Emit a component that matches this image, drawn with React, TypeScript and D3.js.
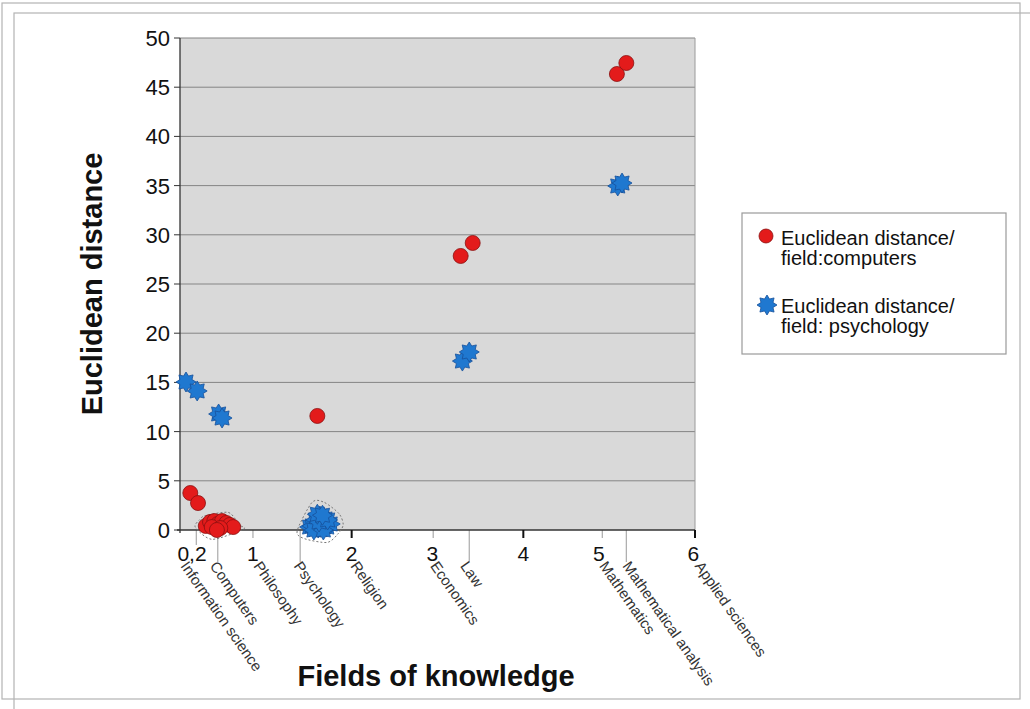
import React from "react";
import * as d3 from "d3";

// ---------- data ----------
const yTicks = [0, 5, 10, 15, 20, 25, 30, 35, 40, 45, 50];
const xMajorTicks = [2, 4, 6];
const xNumLabels = ["0,2", "1", "2", "3", "4", "5", "6"];
const xNumLabelPos = [0.14, 0.85, 2.0, 2.94, 4.0, 4.88, 5.98];

const categories = [
  "Information science",
  "Computers",
  "Philosophy",
  "Psychology",
  "Religion",
  "Economics",
  "Law",
  "Mathematics",
  "Mathematical analysis",
  "Applied sciences",
];
const categoryLinePos = [0.19, 0.44, 0.85, 1.4, 2.0, 2.95, 3.37, 4.92, 5.2, 6.0];
const categoryLineLong = [false, true, false, true, false, false, true, false, true, false];
const categoryLabelPos = [0.0, 0.34, 0.85, 1.32, 1.98, 2.91, 3.26, 4.88, 5.15, 5.99];

// Euclidean distance / field: computers
const compX = [0.12, 0.21, 1.6, 3.27, 3.41, 5.09, 5.2];
const compY = [3.76, 2.74, 11.59, 27.85, 29.17, 46.34, 47.46];
const compClusterX = [0.3, 0.35, 0.4, 0.44, 0.49, 0.54, 0.58, 0.62, 0.37, 0.47, 0.43];
const compClusterY = [0.41, 0.81, 0.91, 0.61, 0.91, 0.71, 0.51, 0.3, 0.3, 0.2, 0.0];

// Euclidean distance / field: psychology
const psyX = [0.07, 0.2, 0.45, 0.49, 3.29, 3.37, 5.1, 5.15];
const psyY = [15.04, 14.13, 11.79, 11.38, 17.17, 18.09, 34.96, 35.26];
const psyClusterX = [1.51, 1.54, 1.58, 1.61, 1.63, 1.65, 1.69, 1.71, 1.75, 1.56, 1.67, 1.62, 1.72, 1.6, 1.66];
const psyClusterY = [0.3, 0.41, 1.02, 0.2, 1.42, 0.71, 1.12, 0.3, 0.61, 0.0, 0.0, 0.81, 1.02, 1.6, 1.5];

const legendLabels = [
  ["Euclidean distance/", "field:computers"],
  ["Euclidean distance/", "field: psychology"],
];

// ---------- helpers ----------
const FONT = "'Liberation Sans', Arial, sans-serif";
const RED = "#e31b1b";
const RED_STROKE = "#8a1010";
const BLUE = "#1f78d0";
const BLUE_STROKE = "#17509a";

function starPath(R: number, r: number, n = 8): string {
  const pts: [number, number][] = [];
  for (let i = 0; i < n * 2; i++) {
    const rad = i % 2 === 0 ? R : r;
    const a = (Math.PI * i) / n - Math.PI / 2;
    pts.push([rad * Math.cos(a), rad * Math.sin(a)]);
  }
  return "M" + pts.map((p) => p[0].toFixed(2) + "," + p[1].toFixed(2)).join("L") + "Z";
}

function haloPath(pts: [number, number][], pad: number): string {
  const hull = d3.polygonHull(pts) || pts;
  const cx = d3.mean(hull, (p) => p[0]) as number;
  const cy = d3.mean(hull, (p) => p[1]) as number;
  const expanded: [number, number][] = [];
  hull.forEach((p) => {
    const dx = p[0] - cx;
    const dy = p[1] - cy;
    const len = Math.sqrt(dx * dx + dy * dy) || 1;
    expanded.push([p[0] + (dx / len) * pad, p[1] + (dy / len) * pad]);
  });
  const line = d3.line().curve(d3.curveCardinalClosed.tension(0.2));
  return line(expanded) || "";
}

export default function App() {
  const W = 1030;
  const H = 709;
  const x = d3.scaleLinear().domain([0, 6]).range([180, 695]);
  const y = d3.scaleLinear().domain([0, 50]).range([530, 38]);
  const [x0, x1] = x.range();
  const [yb, yt] = y.range();

  const star = starPath(10, 6.5);
  const starLegend = starPath(10, 6.5);
  const circleR = 7.5;

  const compCluster: [number, number][] = compClusterX.map((v, i) => [x(v), y(compClusterY[i])]);
  const psyCluster: [number, number][] = psyClusterX.map((v, i) => [x(v), y(psyClusterY[i])]);

  return (
    <svg
      width={W}
      height={H}
      style={{ position: "absolute", left: 0, top: 0, background: "#fff" }}
      fontFamily={FONT}
    >
      {/* page frames */}
      <rect x={2} y={3} width={1018} height={696} fill="none" stroke="#b3b3b3" strokeWidth={1.2} />
      <rect x={14} y={13} width={1030} height={710} fill="none" stroke="#b3b3b3" strokeWidth={1.2} />

      {/* plot background */}
      <rect x={x0} y={yt} width={x1 - x0} height={yb - yt} fill="#d9d9d9" />

      {/* gridlines */}
      {yTicks
        .filter((t) => t > 0)
        .map((t) => (
          <line key={"g" + t} x1={x0} x2={x1} y1={y(t)} y2={y(t)} stroke="#858585" strokeWidth={1} />
        ))}
      <line x1={x1} x2={x1} y1={yt} y2={yb} stroke="#9a9a9a" strokeWidth={1} />

      {/* y ticks */}
      {yTicks.map((t) => (
        <g key={"yt" + t}>
          <line x1={x0 - 6} x2={x0} y1={y(t)} y2={y(t)} stroke="#333" strokeWidth={1} />
          <text x={x0 - 10} y={y(t)} dy="0.36em" textAnchor="end" fontSize={22} fill="#111">
            {t}
          </text>
        </g>
      ))}

      {/* category lines */}
      {categoryLinePos.map((v, i) =>
        xMajorTicks.includes(v) ? null : (
          <line
            key={"cl" + i}
            x1={x(v)}
            x2={x(v)}
            y1={yb}
            y2={categoryLineLong[i] ? yb + 32 : yb + (i === 0 ? 15 : 8)}
            stroke="#aaaaaa"
            strokeWidth={1.2}
          />
        )
      )}

      {/* axes */}
      <line x1={x0} x2={x0} y1={yt} y2={yb + 3} stroke="#333" strokeWidth={1.3} />
      <line x1={x0 - 3} x2={x1} y1={yb} y2={yb} stroke="#333" strokeWidth={1.3} />
      {xMajorTicks.map((t) => (
        <line key={"xm" + t} x1={x(t)} x2={x(t)} y1={yb} y2={yb + 8} stroke="#111" strokeWidth={2} />
      ))}

      {/* numeric x labels */}
      {xNumLabels.map((lab, i) => (
        <text key={"xn" + i} x={x(xNumLabelPos[i])} y={yb + 31} textAnchor="middle" fontSize={21} fill="#111">
          {lab}
        </text>
      ))}

      {/* category labels */}
      {categories.map((c, i) => (
        <text
          key={"cat" + i}
          transform={`translate(${x(categoryLabelPos[i])},${yb + 36}) rotate(55)`}
          fontSize={15}
          fill="#333"
        >
          {c}
        </text>
      ))}

      {/* halos */}
      <path d={haloPath(compCluster, circleR + 3)} fill="none" stroke="#777" strokeWidth={1} strokeDasharray="2,2" />
      <path d={haloPath(psyCluster, 13)} fill="none" stroke="#777" strokeWidth={1} strokeDasharray="2,2" />

      {/* psychology stars */}
      {psyX.map((v, i) => (
        <path key={"p" + i} d={star} transform={`translate(${x(v)},${y(psyY[i])})`} fill={BLUE} stroke={BLUE_STROKE} strokeWidth={0.8} />
      ))}
      {psyCluster.map((p, i) => (
        <path key={"pc" + i} d={star} transform={`translate(${p[0]},${p[1]})`} fill={BLUE} stroke={BLUE_STROKE} strokeWidth={0.8} />
      ))}

      {/* computers circles */}
      {compX.map((v, i) => (
        <circle key={"c" + i} cx={x(v)} cy={y(compY[i])} r={circleR} fill={RED} stroke={RED_STROKE} strokeWidth={0.8} />
      ))}
      {compCluster.map((p, i) => (
        <circle key={"cc" + i} cx={p[0]} cy={p[1]} r={circleR} fill={RED} stroke={RED_STROKE} strokeWidth={0.8} />
      ))}

      {/* axis titles */}
      <text
        transform={`translate(102,${(yt + yb) / 2}) rotate(-90)`}
        textAnchor="middle"
        fontSize={29}
        fontWeight="bold"
        fill="#111"
      >
        Euclidean distance
      </text>
      <text x={436} y={686} textAnchor="middle" fontSize={29} fontWeight="bold" fill="#111">
        Fields of knowledge
      </text>

      {/* legend */}
      <rect x={742} y={213} width={264} height={141} fill="#fff" stroke="#9a9a9a" strokeWidth={1.2} />
      <circle cx={766} cy={236} r={7} fill={RED} stroke={RED_STROKE} strokeWidth={0.8} />
      <path d={starLegend} transform="translate(767,305)" fill={BLUE} stroke={BLUE_STROKE} strokeWidth={0.8} />
      {legendLabels.map((lines, i) =>
        lines.map((ln, j) => (
          <text key={"lg" + i + j} x={781} y={245 + i * 68 + j * 20} fontSize={20} fill="#111">
            {ln}
          </text>
        ))
      )}
    </svg>
  );
}
